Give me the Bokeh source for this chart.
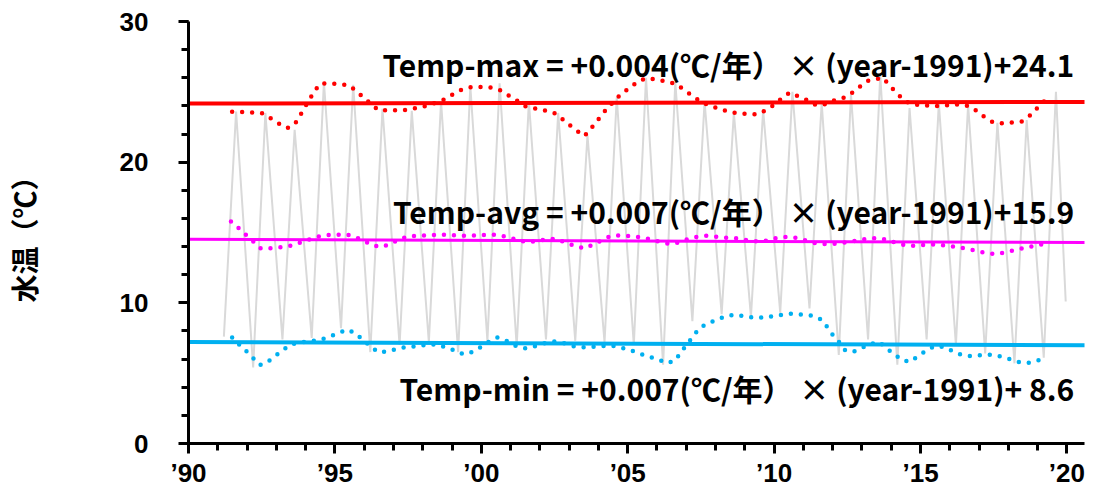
from bokeh.plotting import figure
from bokeh.models import Label, FixedTicker
from bokeh.embed import file_html
from bokeh.resources import INLINE

# ---------------- data ----------------
# monthly water temperature: yearly troughs (about March) and peaks (about August)
gray_start = (1991, 3, 7.6)
gray_end = (2019, 12, 10.1)
trough_years = [1992, 1993, 1994, 1995, 1996, 1997, 1998, 1999, 2000, 2001, 2002, 2003, 2004,
                2005, 2006, 2007, 2008, 2009, 2010, 2011, 2012, 2013, 2014, 2015, 2016, 2017,
                2018, 2019]
trough_vals = [5.4, 7.4, 7.5, 8.2, 6.5, 7.0, 7.2, 6.5, 7.3, 6.9, 7.4, 7.3, 7.2,
               7.0, 5.6, 8.7, 9.2, 9.0, 9.3, 9.6, 6.3, 7.4, 5.6, 7.4, 7.0, 6.4,
               5.7, 6.1]
peak_years = [1991, 1992, 1993, 1994, 1995, 1996, 1997, 1998, 1999, 2000, 2001, 2002, 2003,
              2004, 2005, 2006, 2007, 2008, 2009, 2010, 2011, 2012, 2013, 2014, 2015, 2016,
              2017, 2018, 2019]
peak_vals = [23.6, 23.5, 22.3, 25.7, 25.5, 23.8, 23.65, 24.3, 25.4, 25.6, 24.3, 23.5, 21.9,
             24.6, 26.0, 25.7, 24.3, 23.5, 23.7, 25.0, 24.2, 24.8, 26.2, 23.85, 24.2, 24.1,
             22.8, 23.0, 25.0]
trough_month = 3
peak_month = 8

# smoothed yearly maximum
max_x = [1991.49, 1991.83, 1992.17, 1992.50, 1992.79, 1993.07, 1993.37, 1993.61, 1993.78, 1993.95,
         1994.12, 1994.30, 1994.48, 1994.80, 1995.13, 1995.47, 1995.73, 1995.98, 1996.48, 1996.81,
         1997.15, 1997.49, 1997.81, 1998.14, 1998.76, 1999.05, 1999.35, 1999.66, 1999.99, 2000.32,
         2000.65, 2000.92, 2001.22, 2001.50, 2001.82, 2002.15, 2002.48, 2002.74, 2003.00, 2003.26,
         2003.52, 2003.75, 2003.97, 2004.16, 2004.38, 2004.61, 2004.86, 2005.13, 2005.40, 2005.70,
         2006.03, 2006.36, 2006.68, 2006.94, 2007.20, 2007.49, 2007.79, 2008.10, 2008.43, 2008.75,
         2009.09, 2009.43, 2009.70, 2009.98, 2010.25, 2010.53, 2010.83, 2011.14, 2011.44, 2011.75,
         2012.07, 2012.39, 2012.67, 2012.93, 2013.21, 2013.71, 2013.92, 2014.15, 2014.39, 2014.66,
         2014.99, 2015.32, 2015.66, 2015.99, 2016.32, 2016.64, 2016.93, 2017.20, 2017.48, 2017.80,
         2018.14, 2018.46, 2018.72, 2018.95, 2019.44]
max_y = [23.58, 23.56, 23.54, 23.49, 23.14, 22.76, 22.43, 22.64, 23.20, 23.82,
         24.43, 25.02, 25.58, 25.60, 25.55, 25.48, 25.06, 24.59, 23.70, 23.68,
         23.70, 23.72, 23.86, 24.00, 24.48, 24.85, 25.18, 25.34, 25.34, 25.31,
         25.11, 24.76, 24.38, 23.98, 23.82, 23.68, 23.51, 23.11, 22.66, 22.24,
         21.85, 22.41, 22.97, 23.49, 24.00, 24.52, 24.97, 25.39, 25.81, 25.98,
         25.84, 25.72, 25.53, 25.11, 24.74, 24.31, 24.03, 23.82, 23.61, 23.47,
         23.44, 23.40, 23.68, 24.05, 24.52, 24.95, 24.67, 24.40, 24.05, 24.12,
         24.40, 24.59, 24.95, 25.37, 25.79, 26.00, 25.51, 24.99, 24.50, 24.12,
         24.07, 24.00, 24.00, 24.07, 24.10, 24.00, 23.63, 23.18, 22.83, 22.76,
         22.83, 22.90, 23.28, 23.77, 24.78]

# smoothed yearly average
avg_x = [1991.45, 1991.74, 1991.98, 1992.23, 1992.47, 1992.79, 1993.13, 1993.46, 1993.78, 1994.10,
         1994.41, 1994.74, 1995.07, 1995.40, 1995.72, 1996.02, 1996.31, 1996.62, 1996.93, 1997.24,
         1997.56, 1997.90, 1998.24, 1998.58, 1998.92, 1999.25, 1999.58, 1999.92, 2000.26, 2000.59,
         2000.90, 2001.23, 2001.56, 2001.90, 2002.24, 2002.56, 2002.87, 2003.18, 2003.52, 2003.82,
         2004.13, 2004.42, 2004.76, 2005.10, 2005.41, 2005.74, 2006.07, 2006.40, 2006.72, 2007.04,
         2007.37, 2007.70, 2008.03, 2008.37, 2008.69, 2009.02, 2009.35, 2009.68, 2010.02, 2010.36,
         2010.66, 2010.98, 2011.31, 2011.64, 2011.98, 2012.32, 2012.65, 2012.98, 2013.31, 2013.65,
         2013.97, 2014.29, 2014.62, 2014.96, 2015.29, 2015.62, 2015.95, 2016.29, 2016.62, 2016.95,
         2017.28, 2017.60, 2017.93, 2018.26, 2018.59, 2018.92, 2019.25]
avg_y = [15.79, 15.27, 14.80, 14.33, 13.86, 13.88, 13.95, 14.04, 14.26, 14.49,
         14.70, 14.82, 14.84, 14.87, 14.66, 14.38, 14.07, 13.97, 14.23, 14.56,
         14.75, 14.77, 14.82, 14.84, 14.82, 14.77, 14.77, 14.80, 14.86, 14.82,
         14.66, 14.47, 14.31, 14.38, 14.52, 14.56, 14.28, 14.07, 13.86, 14.14,
         14.47, 14.75, 14.80, 14.73, 14.66, 14.54, 14.35, 14.19, 14.28, 14.52,
         14.70, 14.77, 14.70, 14.63, 14.59, 14.47, 14.38, 14.40, 14.59, 14.68,
         14.66, 14.49, 14.28, 14.19, 14.19, 14.26, 14.35, 14.49, 14.59, 14.59,
         14.40, 14.17, 14.05, 14.09, 14.14, 14.14, 14.05, 13.95, 13.83, 13.67,
         13.53, 13.46, 13.62, 13.76, 13.93, 14.07, 14.21]

# smoothed yearly minimum
min_x = [1991.49, 1991.72, 1991.97, 1992.20, 1992.44, 1992.70, 1992.97, 1993.24, 1993.50, 1993.83,
         1994.16, 1994.49, 1994.80, 1995.11, 1995.43, 1995.70, 1995.95, 1996.21, 1996.47, 1996.79,
         1997.12, 1997.45, 1997.78, 1998.11, 1998.44, 1998.77, 1999.09, 1999.39, 1999.68, 1999.98,
         2000.26, 2000.55, 2000.86, 2001.18, 2001.49, 2001.82, 2002.15, 2002.48, 2002.81, 2003.14,
         2003.47, 2003.80, 2004.13, 2004.46, 2004.78, 2005.11, 2005.41, 2005.73, 2006.05, 2006.37,
         2006.63, 2006.81, 2007.22, 2007.43, 2007.70, 2008.01, 2008.33, 2008.65, 2008.98, 2009.31,
         2009.64, 2009.97, 2010.29, 2010.61, 2010.98, 2011.31, 2011.59, 2011.81, 2012.00, 2012.21,
         2012.41, 2012.68, 2012.99, 2013.31, 2013.59, 2013.84, 2014.11, 2014.38, 2014.64, 2014.91,
         2015.19, 2015.47, 2015.77, 2016.07, 2016.38, 2016.71, 2017.04, 2017.37, 2017.70, 2018.02,
         2018.34, 2018.66, 2018.99, 2019.30]
min_y = [7.54, 7.05, 6.57, 6.08, 5.57, 5.80, 6.24, 6.67, 7.05, 7.19,
         7.28, 7.37, 7.58, 7.84, 8.10, 7.84, 7.37, 6.93, 6.48, 6.55,
         6.72, 6.86, 6.91, 7.00, 7.05, 6.86, 6.62, 6.34, 6.50, 6.86,
         7.23, 7.54, 7.30, 6.93, 6.77, 6.91, 7.12, 7.26, 7.14, 6.91,
         6.84, 6.88, 6.93, 6.95, 6.81, 6.62, 6.38, 6.17, 5.96, 5.71,
         5.92, 6.48, 7.58, 8.15, 8.53, 8.76, 9.04, 9.16, 9.06, 8.95,
         8.95, 9.06, 9.16, 9.24, 9.16, 9.09, 8.83, 8.29, 7.72, 7.23,
         6.65, 6.50, 6.79, 7.09, 7.21, 6.77, 6.34, 5.92, 5.80, 6.20,
         6.60, 6.91, 6.88, 6.60, 6.31, 6.22, 6.27, 6.31, 6.20, 6.01,
         5.80, 5.73, 5.89, 6.10]

# linear trend lines (end values as drawn, 1990 and 2021)
trend_x = [1990, 2021]
trend_max = [24.17, 24.28]
trend_avg = [14.52, 14.28]
trend_min = [7.21, 6.98]

eq_max = "Temp-max = +0.004(℃/年） × (year-1991)+24.1"
eq_avg = "Temp-avg = +0.007(℃/年） × (year-1991)+15.9"
eq_min = "Temp-min = +0.007(℃/年） × (year-1991)+ 8.6"

x_ticks = [1990, 1995, 2000, 2005, 2010, 2015, 2020]
x_tick_labels = ["’90", "’95", "’00", "’05", "’10", "’15", "’20"]
x_minor = list(range(1990, 2021))
y_ticks = [0, 10, 20, 30]
y_minor = list(range(0, 31, 2))
y_title = "水温（℃）"

# ---------------- build monthly gray series ----------------
def dec(year, month):
    return year + (month - 0.5) / 12.0

gx = [dec(gray_start[0], gray_start[1])]
gy = [gray_start[2]]
events = []
for yr, v in zip(peak_years, peak_vals):
    events.append((dec(yr, peak_month), v))
for yr, v in zip(trough_years, trough_vals):
    events.append((dec(yr, trough_month), v))
events.sort()
for ex, ev in events:
    gx.append(ex)
    gy.append(ev)
gx.append(dec(gray_end[0], gray_end[1]))
gy.append(gray_end[2])

# ---------------- figure ----------------
FONT = "Noto Sans CJK JP"
TICKFONT = "Liberation Sans"
p = figure(width=1086, height=490, x_range=(1990, 2020.6), y_range=(0, 30),
           output_backend="svg", toolbar_location=None,
           min_border_left=182, min_border_right=2, min_border_top=21, min_border_bottom=36)
p.outline_line_color = None
p.xgrid.visible = False
p.ygrid.visible = False
p.background_fill_color = "white"

p.line(gx, gy, line_color="#D9D9D9", line_width=2)

p.line(max_x, max_y, line_color="#FF0000", line_width=4.5, line_dash="0 10", line_cap="round")
p.line(avg_x, avg_y, line_color="#FF00FF", line_width=4.5, line_dash="0 10", line_cap="round")
p.line(min_x, min_y, line_color="#00B0F0", line_width=4.5, line_dash="0 10", line_cap="round")

p.line(trend_x, trend_max, line_color="#FF0000", line_width=4)
p.line(trend_x, trend_avg, line_color="#FF00FF", line_width=3)
p.line(trend_x, trend_min, line_color="#00B0F0", line_width=4)

for txt, yy in [(eq_max, 27.0), (eq_avg, 16.5), (eq_min, 3.95)]:
    p.add_layout(Label(x=2020.25, y=yy, text=txt, text_align="right", text_baseline="alphabetic",
                       text_font=FONT, text_font_style="bold", text_font_size="30px",
                       text_color="black"))

xa = p.xaxis[0]
xa.ticker = FixedTicker(ticks=x_ticks, minor_ticks=x_minor)
xa.major_label_overrides = {t: l for t, l in zip(x_ticks, x_tick_labels)}
ya = p.yaxis[0]
ya.ticker = FixedTicker(ticks=y_ticks, minor_ticks=y_minor)
ya.axis_label = y_title

for ax in (xa, ya):
    ax.axis_line_width = 3
    ax.axis_line_color = "black"
    ax.major_tick_line_width = 3
    ax.minor_tick_line_width = 3
    ax.major_tick_out = 10
    ax.major_tick_in = 0
    ax.minor_tick_out = 7
    ax.minor_tick_in = 0
    ax.major_label_text_font = TICKFONT
    ax.major_label_text_font_style = "bold"
    ax.major_label_text_font_size = "26px"
    ax.major_label_text_color = "black"

xa.major_label_standoff = 4
ya.major_label_standoff = 30
ya.axis_label_text_font = FONT
ya.axis_label_text_font_style = "bold"
ya.axis_label_text_font_size = "28px"
ya.axis_label_standoff = 73
ya.axis_label_text_color = "black"

open("out.html", "w").write(file_html(p, INLINE))
